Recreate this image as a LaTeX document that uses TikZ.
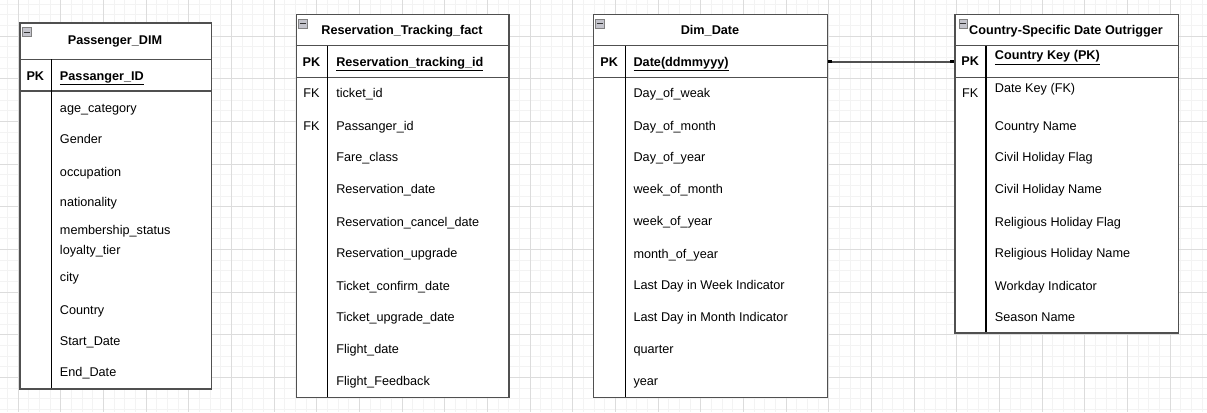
\documentclass[tikz,border=0pt]{standalone}
\usepackage{fontspec}
\setmainfont{Liberation Sans}
\usetikzlibrary{arrows.meta}
\definecolor{minorgray}{HTML}{F3F3F3}
\definecolor{majorgray}{HTML}{DCDCDC}
\definecolor{framegray}{HTML}{505050}
\definecolor{icongray}{HTML}{C4C4CC}
\def\rowfont{\fontsize{9.5}{11}\selectfont}

\begin{document}
\begin{tikzpicture}[x=0.75pt,y=-0.75pt,font=\rowfont,
  minorgrid/.style={draw=minorgray,line width=0.75pt},
  majorgrid/.style={draw=majorgray,line width=0.75pt},
  tablebox/.style={draw=framegray,line width=1.1pt,fill=white,anchor=north west,inner sep=0pt},
  tableline/.style={draw=framegray,line width=1.1pt},
  keyline/.style={draw=black,line width=0.8pt},
  titletext/.style={anchor=base,inner sep=0pt,font=\rowfont\bfseries},
  keytext/.style={anchor=base,inner sep=0pt},
  keybold/.style={font=\rowfont\bfseries},
  fieldtext/.style={anchor=base west,inner sep=0pt},
  tableicon/.style={draw=gray,fill=icongray,minimum size=6.4pt,inner sep=0pt,
    path picture={\draw[black!80,line width=0.6pt] ([xshift=1pt]path picture bounding box.west) -- ([xshift=-1pt]path picture bounding box.east);}},
  relline/.style={draw=framegray,line width=1.1pt,{Rectangle[length=3pt,width=2.4pt,color=black]}-{Rectangle[length=3pt,width=2.4pt,color=black]}}
]
\useasboundingbox (0,0) rectangle (1207,412);
\fill[white] (0,0) rectangle (1207,412);

% background grid
\foreach \i in {-1,...,112}{
    \draw[minorgrid] ({18+10.667*\i},0) -- ({18+10.667*\i},412);
}
\foreach \j in {-3,...,35}{
    \draw[minorgrid] (0,{36+10.667*\j}) -- (1207,{36+10.667*\j});
}
\foreach \i in {0,...,28}{
    \draw[majorgrid] ({18+42.667*\i},0) -- ({18+42.667*\i},412);
}
\foreach \j in {-1,...,9}{
    \draw[majorgrid] (0,{36+42.667*\j}) -- (1207,{36+42.667*\j});
}

% Passenger_DIM
\node[tablebox,minimum width=143.55pt,minimum height=274.5pt] (passbox) at (19.3,22.3) {};
\draw[tableline] (19.3,59.3) -- (210.7,59.3);
\draw[tableline] (19.3,91) -- (210.7,91);
\draw[keyline] (51.3,59.3) -- (51.3,388.3);
\node[tableicon] (passicon) at (26.6,32) {};
\node[titletext] (passtitle) at (115,44.8) {Passenger\_DIM};
\node[keytext,keybold] (passpk) at (35.3,80.2) {PK};
\node[fieldtext,keybold] (passid) at (59.7,80.2) {\underline{Passanger\_ID}};
\foreach \y/\f [count=\i] in {112.5/age\_category, 143.8/Gender, 176.2/occupation,
    206.8/nationality, 234.2/membership\_status, 254.8/loyalty\_tier, 281.8/city,
    314.2/Country, 345.8/Start\_Date, 376.5/End\_Date}{
    \node[fieldtext] (pass\i) at (59.7,\y) {\f};
}

% Reservation_Tracking_fact
\node[tablebox,minimum width=159.45pt,minimum height=287pt] (factbox) at (295.7,14) {};
\draw[tableline] (295.7,45.7) -- (508.3,45.7);
\draw[tableline] (295.7,77.7) -- (508.3,77.7);
\draw[keyline] (327.3,45.7) -- (327.3,396.7);
\node[tableicon] (facticon) at (302.7,23.5) {};
\node[titletext] (facttitle) at (402,34.8) {Reservation\_Tracking\_fact};
\node[keytext,keybold] (factpk) at (311.5,66.2) {PK};
\node[fieldtext,keybold] (factid) at (336,66.2) {\underline{Reservation\_tracking\_id}};
\node[keytext] (factfk1) at (311.5,97.8) {FK};
\node[keytext] (factfk2) at (311.5,130.2) {FK};
\foreach \y/\f [count=\i] in {97.8/ticket\_id, 130.2/Passanger\_id, 161.8/Fare\_class,
    193.8/Reservation\_date, 226.2/Reservation\_cancel\_date, 257.8/Reservation\_upgrade,
    290.2/Ticket\_confirm\_date, 321.8/Ticket\_upgrade\_date, 353.8/Flight\_date,
    385.2/Flight\_Feedback}{
    \node[fieldtext] (fact\i) at (336,\y) {\f};
}

% Dim_Date
\node[tablebox,minimum width=175.5pt,minimum height=287pt] (datebox) at (593,14) {};
\draw[tableline] (593,45.7) -- (827,45.7);
\draw[tableline] (593,77.7) -- (827,77.7);
\draw[keyline] (625.3,45.7) -- (625.3,396.7);
\node[tableicon] (dateicon) at (600,23.5) {};
\node[titletext] (datetitle) at (710,34.8) {Dim\_Date};
\node[keytext,keybold] (datepk) at (609.2,66.2) {PK};
\node[fieldtext,keybold] (dateid) at (633.3,66.2) {\underline{Date(ddmmyyy)}};
\foreach \y/\f [count=\i] in {97.8/Day\_of\_weak, 130.2/Day\_of\_month, 161.8/Day\_of\_year,
    193.8/week\_of\_month, 225.8/week\_of\_year, 258.2/month\_of\_year,
    289.8/Last Day in Week Indicator, 321.8/Last Day in Month Indicator,
    353.8/quarter, 385.2/year}{
    \node[fieldtext] (date\i) at (633.3,\y) {\f};
}

% Country-Specific Date Outrigger
\node[tablebox,minimum width=167.55pt,minimum height=238.7pt] (ctrybox) at (954.3,14) {};
\draw[tableline] (954.3,45.7) -- (1177.7,45.7);
\draw[tableline] (954.3,77.7) -- (1177.7,77.7);
\draw[keyline] (986,45.7) -- (986,332.3);
\node[tableicon] (ctryicon) at (963.3,23.5) {};
\node[titletext] (ctrytitle) at (1066,34.8) {Country-Specific Date Outrigger};
\node[keytext,keybold] (ctrypk) at (970.2,65.8) {PK};
\node[fieldtext,keybold] (ctryid) at (994.7,59.8) {\underline{Country Key (PK)}};
\node[keytext] (ctryfk) at (970.2,97.8) {FK};
\foreach \y/\f [count=\i] in {92.2/Date Key (FK), 130.2/Country Name, 161.8/Civil Holiday Flag,
    193.8/Civil Holiday Name, 226.2/Religious Holiday Flag, 257.8/Religious Holiday Name,
    290.2/Workday Indicator, 321.8/Season Name}{
    \node[fieldtext] (ctry\i) at (994.7,\y) {\f};
}

\draw[relline] (datebox.east |- datepk) -- (ctrybox.west |- datepk);
\end{tikzpicture}
\end{document}
